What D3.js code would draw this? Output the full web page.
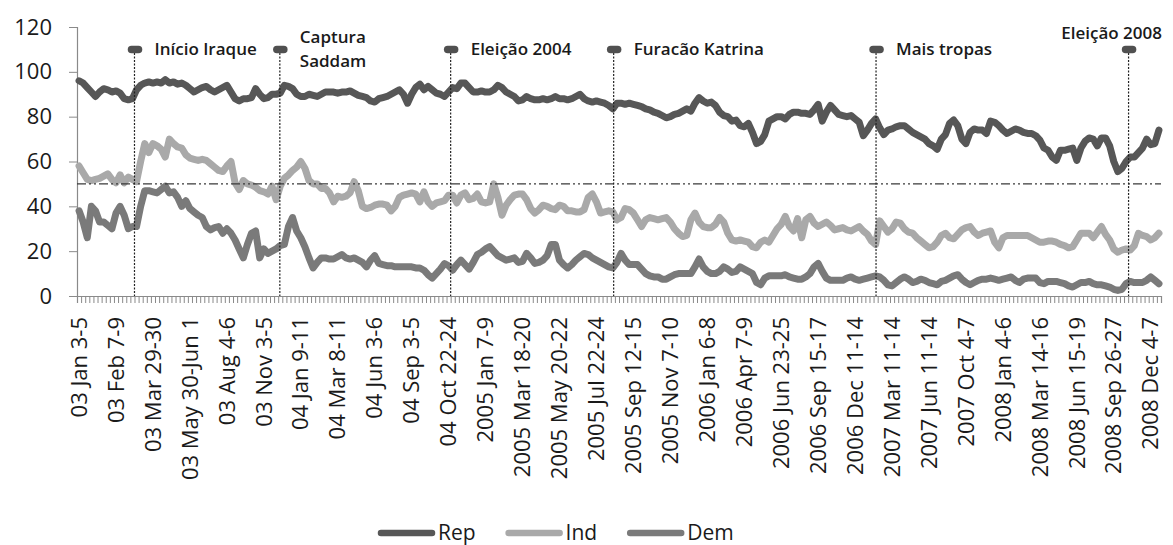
<!DOCTYPE html>
<html>
<head>
<meta charset="utf-8">
<script src="https://cdn.jsdelivr.net/npm/d3@7"></script>
<style>
  html, body { margin: 0; padding: 0; background: #fff; }
  svg { display: block; font-family: "Open Sans", "DejaVu Sans", sans-serif; }
</style>
</head>
<body>
<svg id="chart" width="1173" height="545"></svg>
<script>
// ---- DATA ----
const seriesNames = ["Rep", "Ind", "Dem"];

const rep = [
  96,95,93,91,89,91,92.5,92,91,91.5,90.5,88,87.5,88,
  92,94,95,95.5,95,95.5,95,96.5,95,95.5,94.5,95,94,92.5,
  91,92,93,93.5,92,91,92,93,94,91,88,87,88,88,
  88.5,92.5,90,88,88.5,90,90,90.5,94,93.5,92.5,90,89,89,
  90,89.5,89,90,91,91,91,90.5,91,91,91.5,90.5,89.5,89,
  88.5,87,86.5,88,88.5,89,90,91,
  92,90,86,90,93,94.5,92,93.5,92,90.5,90,89,91,93,
  92.5,95,95,93,91,91,91.5,91,91,92,94,93,91,90,
  89,87,87.5,89,88,87.5,87.5,88,87.5,88,89,88,88,87.5,
  88,89,90,88,87,86.5,87,86.5,86,85,83.5,86,86,85.5,
  86,85.5,85,84.5,83.5,83,82,81.5,80.5,79.5,80,81,81.5,82.5,
  83.5,82.5,86,88.5,87,86,86.5,85,82,80.5,80,78,78.5,76,
  75.5,77,73,68,69,72,78,79,
  80,80,79,81,82,82,81.5,81.5,81,83,85.5,78,82,85,
  83,81,80.5,80,80.5,79,77.5,71.5,74,77,79,75,72,74,
  74.5,75.5,76,76,74.5,73,72,71,70,68,67,65.5,70,72,
  77,78.5,76,70,68,73,74.5,74,74,72.5,78,77.5,76,74,
  72.5,73.5,74.5,74,73,72.5,72.5,71.5,69.5,66,65,62,60.5,65,
  65,65.5,66,60.5,66,69,70.5,70,67,70.5,70.5,67,60,55.5,
  57,60,62,62,64,66,70,67.5,68,74
];

const ind = [
  58,55,52,51.5,52,52.5,53.5,54.5,52,50.5,54,50.5,53,52,
  51,60,68,64,68,67,65.5,62,70,68,66.5,66,63,61.5,
  61,60.5,61,60.5,59,57.5,56,55.5,58,60,50.5,47.5,51.5,50,
  49.5,48.5,47,46.5,45.5,49,43,49,52.5,54,56,57.5,60,57,
  51.5,50,50,48,48,46,42,44.5,44,44.5,46,51,47,40,
  39,39.5,40.5,41,41,40.5,38,40,
  44,45,45.5,46,45.5,42,46.5,42,40,41.5,42,42.5,45,45,
  41.5,45,46,43,43.5,45.5,42,41.5,42,50,44,36,40.5,43,
  45,45.5,45.5,43,39,37,38.5,40.5,40,39,38.5,40.5,40,38,
  38,37.5,37.5,38.5,44,45.5,42,37,37.5,38,37.5,34,35,39,
  38.5,37,34,31,34,35,34.5,34,34.5,35,33,30,28,26.5,
  27,34,37,33,31,30.5,30.5,32,35,33,28,25,24.5,25,
  24.5,24,22,21.5,24,25,24,27,
  30,32,35.5,31,29,34.5,26,34,35.5,32.5,31,32,33,31.5,
  29.5,30,30.5,29.5,29,30,31,29,27.5,24.5,23,33.5,31,28.5,
  30,33,32.5,30,28.5,28,26,24.5,23,21.5,22,24,27,28,
  26,25.5,27.5,29.5,30.5,31,28.5,27,28,28.5,29,24,21.5,26,
  27,27,27,27,27,27,26,25,24,24,24.5,24.5,24,23,
  22.5,21.5,22,25,28,28,28,26,28.5,31,27.5,25,21,19.5,
  20.5,21,20.5,22.5,28,27,26.5,25,26,28
];

const dem = [
  38,33,26,40,38,33,33,31.5,30,37,40,36,30,31,
  31,40,47,47,46.5,46,47.5,49,46,46.5,44,40,42.5,39,
  37.5,36,35,31,29.5,30.5,31,28,30,28,25,21,17,23,
  28,29,17,21,19,20,21,22.5,23,31,35,29,26,22,
  17,12.5,15,17,17,16.5,16.5,17.5,18.5,17,16.5,17,16,15,
  13,16,18,14.5,14,13.5,13.5,13,
  13,13,13,13,12.5,12.5,11.5,9.5,8,10,12,14.5,13.5,11.5,
  14,16,14,12,15,18.5,19.5,21,22,20,18,17,16,16.5,
  17,15,15.5,19,17,14.5,15,16,18,23,23,16,14,12.5,
  14,16,17.5,19,18.5,17,16,15,14,13,12.5,15,19,16,
  14,14,14,12,10,9,8.5,8.5,7.5,7.5,8.5,9.5,10,10,
  10,10,13,16.5,13,11,10,10,11,13,12,10.5,11,13,
  12,11,10,6,5,8,9,9,
  9,9,9.5,8.5,8,7.5,7.5,8.5,10,13,14.5,11,8,7,
  7,7,7,8,8.5,7.5,7,7.5,8,8.5,9,8.5,7,5,
  4.5,6,7.5,8.5,7.5,6,6.5,7.5,7,6,5.5,5,6.5,7,
  8,9,9.5,7.5,6,5,6,7,7.5,7.5,8,7.5,7,7.5,
  8,8.5,7,6,7.5,8,8,8,6,5.5,6.5,6.5,6.5,6,
  5.5,4.5,4,5,6,6,6.5,5.5,5,5,4.5,4,3,2.5,
  3,5.5,6.5,6,6,6,7,8.5,7,5.5
];

// one label every 9 categories
const tickLabels = [
  "03 Jan 3-5","03 Feb 7-9","03 Mar 29-30","03 May 30-Jun 1","03 Aug 4-6",
  "03 Nov 3-5","04 Jan 9-11","04 Mar 8-11","04 Jun 3-6","04 Sep 3-5",
  "04 Oct 22-24","2005 Jan 7-9","2005 Mar 18-20","2005 May 20-22","2005 Jul 22-24",
  "2005 Sep 12-15","2005 Nov 7-10","2006 Jan 6-8","2006 Apr 7-9","2006 Jun 23-25",
  "2006 Sep 15-17","2006 Dec 11-14","2007 Mar 11-14","2007 Jun 11-14","2007 Oct 4-7",
  "2008 Jan 4-6","2008 Mar 14-16","2008 Jun 15-19","2008 Sep 26-27","2008 Dec 4-7"
];
const labelEvery = 9;

const yTicks = [0, 20, 40, 60, 80, 100, 120];
const refValue = 50;      // dash-dot reference line
const eventLevel = 110;   // height of event markers

// event name and position on the category axis
const eventNames = ["Início Iraque", "Captura\nSaddam", "Eleição 2004", "Furacão Katrina", "Mais tropas", "Eleição 2008"];
const eventPos   = [14.0, 49.4, 91.0, 130.7, 194.6, 256.1];

(function () {
  const colors = { Rep: "#575757", Ind: "#a9a9a9", Dem: "#7a7a7a" };
  const data = { Rep: rep, Ind: ind, Dem: dem };
  const N = rep.length;

  const svg = d3.select("#chart");
  const mLeft = 77, mRight = 1161, mTop = 27, mBottom = 296;

  const x = d3.scaleLinear().domain([0, N]).range([mLeft, mRight]);
  const y = d3.scaleLinear().domain([0, 120]).range([mBottom, mTop]);

  // axes
  const yAxis = svg.append("g").attr("transform", `translate(${mLeft},0)`)
    .call(d3.axisLeft(y).tickValues(yTicks).tickSize(8).tickPadding(17));
  const xAxis = svg.append("g").attr("transform", `translate(0,${mBottom})`)
    .call(d3.axisBottom(x).tickValues(d3.range(0, N + 1)).tickSize(7).tickFormat(""));
  [yAxis, xAxis].forEach(g => {
    g.selectAll("path.domain").attr("stroke", "#8a8a8a").attr("stroke-width", 1.2);
    g.selectAll(".tick line").attr("stroke", "#8a8a8a").attr("stroke-width", 1);
  });
  yAxis.selectAll("text").attr("font-size", 22).attr("fill", "#1a1a1a")
    .attr("font-family", '"Open Sans", sans-serif');

  // x labels
  svg.append("g").selectAll("text").data(tickLabels).join("text")
    .attr("transform", (d, k) => `translate(${x(k * labelEvery + 0.5)},317) rotate(-90)`)
    .attr("text-anchor", "end")
    .attr("dy", "0.35em")
    .attr("font-size", 22)
    .attr("fill", "#1a1a1a")
    .text(d => d);

  // series lines
  const line = d3.line().x((d, i) => x(i + 0.5)).y(d => y(d));
  seriesNames.forEach(name => {
    svg.append("path").datum(data[name])
      .attr("d", line)
      .attr("fill", "none")
      .attr("stroke", colors[name])
      .attr("stroke-width", 7)
      .attr("stroke-linejoin", "round")
      .attr("stroke-linecap", "round");
  });

  // reference line at 50
  svg.append("line")
    .attr("x1", mLeft).attr("x2", mRight)
    .attr("y1", y(refValue)).attr("y2", y(refValue))
    .attr("stroke", "#3a3a3a").attr("stroke-width", 1.3)
    .attr("stroke-dasharray", "9,3,2,3,2,3");

  // events
  const ev = svg.append("g");
  eventNames.forEach((name, k) => {
    const ex = x(eventPos[k]);
    ev.append("line")
      .attr("x1", ex).attr("x2", ex)
      .attr("y1", y(eventLevel)).attr("y2", mBottom)
      .attr("stroke", "#222").attr("stroke-width", 1.2)
      .attr("stroke-dasharray", "2,1.5");
    ev.append("line")
      .attr("x1", ex - 3).attr("x2", ex + 4)
      .attr("y1", y(eventLevel)).attr("y2", y(eventLevel))
      .attr("stroke", "#505050").attr("stroke-width", 7.5)
      .attr("stroke-linecap", "round");
    const lines = name.split("\n");
    const isLast = k === eventNames.length - 1;
    const t = ev.append("text")
      .attr("font-size", 17).attr("font-weight", 600).attr("fill", "#1a1a1a");
    if (isLast) {
      t.attr("x", ex - 17).attr("y", y(eventLevel) - 16)
        .attr("text-anchor", "middle").attr("dy", "0.35em").text(name);
    } else {
      const lh = 24;
      const y0 = y(eventLevel) - (lines.length - 1) * lh / 2;
      lines.forEach((ln, j) => {
        t.append("tspan").attr("x", ex + 20).attr("y", y0 + j * lh)
          .attr("dy", "0.35em").text(ln);
      });
    }
  });

  // legend
  const lg = svg.append("g");
  let lx = 378;
  const ly = 533;
  seriesNames.forEach(name => {
    lg.append("line").attr("x1", lx + 3).attr("x2", lx + 54)
      .attr("y1", ly).attr("y2", ly)
      .attr("stroke", colors[name]).attr("stroke-width", 6.5)
      .attr("stroke-linecap", "round");
    const tx = lg.append("text").attr("x", lx + 60).attr("y", ly)
      .attr("dy", "0.35em").attr("font-size", 21).attr("fill", "#1a1a1a")
      .text(name);
    lx = lx + 60 + tx.node().getComputedTextLength() + 30;
  });
})();
</script>
</body>
</html>
